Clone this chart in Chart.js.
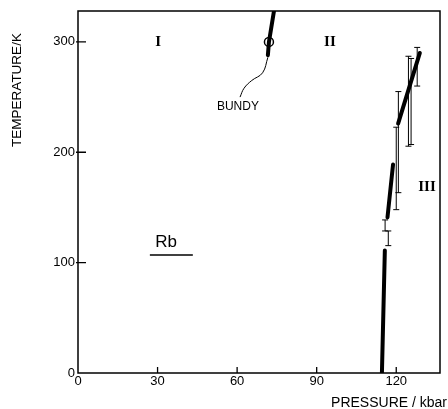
<!DOCTYPE html>
<html>
<head>
<meta charset="utf-8">
<script src="https://cdn.jsdelivr.net/npm/chart.js@4/dist/chart.umd.min.js"></script>
<style>
  html, body { margin: 0; padding: 0; background: #fff; }
  #wrap { width: 448px; height: 409px; }
</style>
</head>
<body>
<div id="wrap"><canvas id="myChart"></canvas></div>
<script>
// axis ticks
const pressureTicks = [0, 30, 60, 90, 120];
const tempTicks = [0, 100, 200, 300];

// Bundy's melting/transition line near 300 K
const bundyP = [71.6, 72.0, 73.9];
const bundyT = [288, 300, 328];
const bundyPointP = [72.0];
const bundyPointT = [300];
const leaderP = [71.6, 69.6, 65.5, 62.6, 61.1];
const leaderT = [286, 272, 265, 258, 250];

// II / III phase boundary, three measured pieces
const seg1P = [114.6, 115.7];
const seg1T = [0, 111];
const seg2P = [116.7, 118.8];
const seg2T = [141, 189];
const seg3P = [120.7, 128.9];
const seg3T = [226, 290];

// error bars
const errP = [115.8, 117.0, 120.0, 120.8, 124.6, 125.6, 127.9];
const errLo = [128.7, 115.4, 148, 163.4, 205.5, 207, 260];
const errHi = [138.7, 128.7, 222.7, 255, 287, 285, 295];

// Rb underline
const rbLineP = [27.1, 43.3];
const rbLineT = [107, 107];

const pts = (xs, ys) => xs.map((x, i) => ({ x: x, y: ys[i] }));

const thick = (xs, ys) => ({
  data: pts(xs, ys), showLine: true, borderColor: '#000', borderWidth: 4,
  pointRadius: 0, borderCapStyle: 'round'
});

const datasets = [
  thick(seg1P, seg1T),
  thick(seg2P, seg2T),
  thick(seg3P, seg3T),
  thick(bundyP, bundyT),
  {
    data: pts(leaderP, leaderT), showLine: true, borderColor: '#000', borderWidth: 1,
    pointRadius: 0, tension: 0.4
  },
  {
    data: pts(rbLineP, rbLineT), showLine: true, borderColor: '#000', borderWidth: 1.5,
    pointRadius: 0
  },
  {
    data: pts(bundyPointP, bundyPointT), pointRadius: 4.5, pointBackgroundColor: '#fff',
    pointBorderColor: '#000', pointBorderWidth: 1.5
  }
];
errP.forEach((p, i) => {
  datasets.push({
    data: [{ x: p, y: errLo[i] }, { x: p, y: errHi[i] }],
    showLine: true, borderColor: '#000', borderWidth: 1,
    pointStyle: 'line', pointRadius: 3, pointBorderWidth: 1, pointBorderColor: '#000'
  });
});

// text annotations in data coordinates
const notes = [
  { text: 'I', x: 30.2, y: 300, font: 'bold 15px "Liberation Serif"' },
  { text: 'II', x: 95, y: 300, font: 'bold 15px "Liberation Serif"' },
  { text: 'III', x: 131.6, y: 168, font: 'bold 15px "Liberation Serif"' },
  { text: 'BUNDY', x: 60.3, y: 241, font: '12px "Liberation Sans"' },
  { text: 'Rb', x: 33.2, y: 118, font: '17px "Liberation Sans"' }
];

const framePlugin = {
  id: 'frame',
  afterDraw(chart) {
    const ctx = chart.ctx, a = chart.chartArea;
    const xs = chart.scales.x, ys = chart.scales.y;
    ctx.save();
    ctx.strokeStyle = '#000';
    ctx.lineWidth = 1.5;
    ctx.strokeRect(a.left, a.top, a.right - a.left, a.bottom - a.top);
    ctx.lineWidth = 1.3;
    ctx.beginPath();
    pressureTicks.slice(1).forEach(v => {
      const px = xs.getPixelForValue(v);
      ctx.moveTo(px, a.bottom); ctx.lineTo(px, a.bottom - 6);
    });
    tempTicks.slice(1).forEach(v => {
      const py = ys.getPixelForValue(v);
      ctx.moveTo(a.left - 2, py); ctx.lineTo(a.left + 8, py);
    });
    ctx.stroke();
    ctx.fillStyle = '#000';
    ctx.textAlign = 'center';
    ctx.textBaseline = 'middle';
    notes.forEach(n => {
      ctx.font = n.font;
      ctx.fillText(n.text, xs.getPixelForValue(n.x), ys.getPixelForValue(n.y));
    });
    // axis titles
    ctx.font = '14px "Liberation Sans"';
    ctx.textAlign = 'right';
    ctx.fillText('PRESSURE / kbar', 447, 403);
    ctx.translate(17, 90);
    ctx.rotate(-Math.PI / 2);
    ctx.textAlign = 'center';
    ctx.font = '13.5px "Liberation Sans"';
    ctx.fillText('TEMPERATURE/K', 0, 0);
    ctx.restore();
  }
};

new Chart(document.getElementById('myChart').getContext('2d'), {
  type: 'scatter',
  data: { datasets: datasets },
  options: {
    responsive: true,
    maintainAspectRatio: false,
    animation: false,
    layout: { padding: { top: 11, right: 8, left: 0, bottom: 0 } },
    plugins: { legend: { display: false }, tooltip: { enabled: false } },
    scales: {
      x: {
        type: 'linear', min: 0, max: 136.5,
        afterBuildTicks: s => { s.ticks = pressureTicks.map(v => ({ value: v })); },
        afterFit: s => { s.height = 36; },
        grid: { display: false, drawTicks: false },
        border: { display: false },
        ticks: { color: '#000', padding: 1, maxRotation: 0, font: { family: 'Liberation Sans', size: 13 } }
      },
      y: {
        type: 'linear', min: 0, max: 328,
        afterBuildTicks: s => { s.ticks = tempTicks.map(v => ({ value: v })); },
        afterFit: s => { s.width = 78; },
        grid: { display: false, drawTicks: false },
        border: { display: false },
        ticks: { color: '#000', padding: 3, font: { family: 'Liberation Sans', size: 13 } }
      }
    }
  },
  plugins: [framePlugin]
});
</script>
</body>
</html>
